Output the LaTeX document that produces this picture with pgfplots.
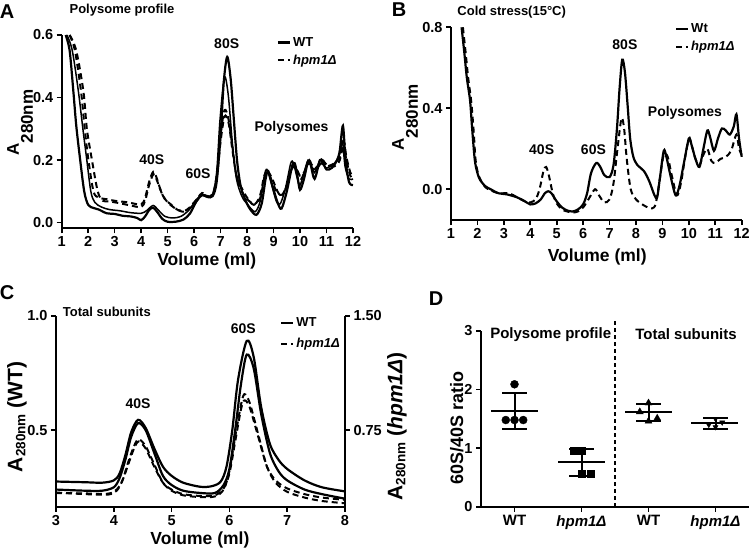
\documentclass[border=0pt]{standalone}
\usepackage{pgfplots}
\pgfplotsset{compat=1.18}
\usepackage{fontspec}
\setmainfont{Liberation Sans}
\newcommand\fs[1]{\fontsize{#1}{#1}\selectfont\bfseries}
\pgfplotsset{
  panel/.style={
    scale only axis, anchor=south west,
    axis x line*=bottom, axis y line*=left,
    axis line style={line width=2.2pt},
    tick style={line width=1.6pt,black},
    tick align=outside, major tick length=5pt,
    enlargelimits=false, clip=false,
    tick label style={font=\fs{14.5}},
    /pgf/number format/assume math mode=true,
    label style={font=\fs{17.5}},
    legend style={draw=none, fill=none, inner sep=0pt, font=\fs{13}, row sep=3pt, cells={anchor=west}, anchor=north west},
    legend image code/.code={\draw[#1] (0pt,0pt) -- (12pt,0pt);},
  },
  wt/.style={black, line width=2.2pt, smooth, tension=0.5},
  wtthin/.style={black, line width=1.5pt, smooth, tension=0.5},
  ko/.style={black, line width=2pt, dash pattern=on 6pt off 4pt, smooth, tension=0.5},
  bar/.style={black, line width=2pt},
}
\begin{document}
\bfseries
\begin{tikzpicture}
\useasboundingbox (0pt,0pt) rectangle (750pt,550pt);
% panel letters and titles
\node[font=\fs{20}] at (7pt,538pt) {A};
\node[font=\fs{20}] at (399pt,540pt) {B};
\node[font=\fs{20}] at (7pt,257.5pt) {C};
\node[font=\fs{20}] at (436pt,251pt) {D};
\node[font=\fs{13}] at (122pt,539.5pt) {Polysome profile};
\node[font=\fs{13}] at (511.7pt,538.3pt) {Cold stress(15°C)};
\node[font=\fs{13}, anchor=west, inner sep=0pt] at (62.7pt,238.3pt) {Total subunits};

% ---------------- Panel A ----------------
\begin{axis}[panel, at={(61.7pt,321.7pt)}, width=291.3pt, height=193.3pt,
  xmin=1, xmax=12, ymin=-0.018, ymax=0.6,
  xtick={1,2,...,12}, ytick={0,0.2,0.4,0.6}, yticklabels={0.0,0.2,0.4,0.6},
  xlabel={Volume (ml)}, xlabel style={at={(axis description cs:0.498,-0.17)}, anchor=center},
  ylabel={A\raisebox{-14pt}{280nm}}, ylabel style={at={(axis description cs:-0.143,0.547)}, anchor=center, font=\fs{17}},
  legend style={at={(axis description cs:0.738,1.0)}}]
\addplot[wt] coordinates {(1.15,0.60)(1.3,0.55)(1.44,0.42)(1.55,0.31)(1.69,0.206)(1.85,0.10)(2.0,0.057)(2.2,0.047)(2.4,0.042)(2.7,0.03)(3.0,0.028)(3.3,0.022)(3.6,0.02)(3.85,0.015)(4.0,0.008)(4.15,0.02)(4.3,0.04)(4.45,0.048)(4.6,0.035)(4.8,0.012)(5.0,0.003)(5.3,0.003)(5.6,0.01)(5.85,0.03)(6.1,0.07)(6.3,0.088)(6.5,0.082)(6.7,0.085)(6.85,0.13)(7.0,0.28)(7.12,0.45)(7.25,0.53)(7.38,0.46)(7.5,0.33)(7.62,0.2)(7.75,0.12)(7.9,0.08)(8.1,0.045)(8.35,0.025)(8.55,0.06)(8.7,0.14)(8.8,0.165)(8.95,0.12)(9.15,0.065)(9.3,0.045)(9.5,0.1)(9.7,0.18)(9.8,0.19)(9.9,0.15)(10.0,0.105)(10.15,0.14)(10.3,0.195)(10.4,0.185)(10.55,0.14)(10.75,0.2)(10.85,0.195)(11.0,0.17)(11.2,0.175)(11.4,0.2)(11.5,0.23)(11.62,0.31)(11.72,0.2)(11.85,0.13)(12.0,0.12)};
\addlegendentry{WT}
\addplot[ko] coordinates {(1.3,0.60)(1.5,0.55)(1.73,0.42)(1.87,0.3)(2.0,0.206)(2.2,0.10)(2.4,0.08)(2.7,0.075)(3.0,0.07)(3.5,0.065)(4.0,0.058)(4.15,0.08)(4.3,0.13)(4.46,0.163)(4.6,0.14)(4.75,0.1)(4.9,0.075)(5.1,0.06)(5.4,0.04)(5.7,0.04)(5.95,0.06)(6.15,0.08)(6.3,0.095)(6.5,0.085)(6.7,0.09)(6.85,0.15)(7.0,0.28)(7.15,0.36)(7.3,0.33)(7.45,0.24)(7.6,0.15)(7.8,0.11)(8.0,0.08)(8.25,0.057)(8.5,0.08)(8.65,0.14)(8.8,0.16)(8.95,0.14)(9.15,0.1)(9.3,0.085)(9.5,0.12)(9.7,0.18)(9.8,0.185)(9.95,0.15)(10.05,0.14)(10.2,0.17)(10.35,0.2)(10.5,0.17)(10.6,0.175)(10.8,0.19)(11.0,0.18)(11.3,0.19)(11.5,0.21)(11.65,0.24)(11.75,0.2)(11.9,0.15)(12.0,0.14)};
\addlegendentry{\textit{hpm1Δ}}
\addplot[wtthin, forget plot] coordinates {(1.2,0.60)(1.4,0.55)(1.63,0.42)(1.8,0.3)(1.94,0.206)(2.1,0.10)(2.25,0.065)(2.5,0.05)(2.8,0.042)(3.2,0.038)(3.6,0.032)(4.0,0.03)(4.2,0.038)(4.45,0.055)(4.65,0.04)(4.9,0.02)(5.2,0.015)(5.5,0.02)(5.8,0.04)(6.1,0.075)(6.3,0.09)(6.5,0.085)(6.7,0.09)(6.85,0.16)(6.97,0.32)(7.1,0.44)(7.18,0.465)(7.3,0.4)(7.45,0.25)(7.6,0.14)(7.8,0.085)(8.0,0.06)(8.3,0.035)(8.5,0.07)(8.65,0.15)(8.75,0.17)(8.9,0.13)(9.1,0.07)(9.25,0.06)(9.45,0.11)(9.65,0.19)(9.75,0.19)(9.9,0.14)(10.0,0.12)(10.15,0.16)(10.3,0.2)(10.4,0.19)(10.55,0.16)(10.75,0.2)(10.85,0.19)(11.0,0.175)(11.3,0.19)(11.5,0.22)(11.6,0.26)(11.7,0.18)(11.85,0.14)(12.0,0.14)};
\addplot[ko, forget plot] coordinates {(1.3,0.60)(1.55,0.55)(1.82,0.42)(1.95,0.3)(2.13,0.206)(2.36,0.10)(2.55,0.07)(2.8,0.068)(3.2,0.062)(3.6,0.055)(4.0,0.05)(4.15,0.07)(4.3,0.12)(4.47,0.155)(4.62,0.13)(4.8,0.09)(5.0,0.065)(5.3,0.045)(5.6,0.035)(5.9,0.05)(6.15,0.075)(6.3,0.09)(6.5,0.085)(6.7,0.09)(6.85,0.14)(7.0,0.26)(7.15,0.34)(7.3,0.32)(7.45,0.23)(7.6,0.15)(7.8,0.1)(8.0,0.075)(8.3,0.06)(8.5,0.09)(8.65,0.15)(8.8,0.16)(8.95,0.13)(9.15,0.095)(9.35,0.09)(9.55,0.13)(9.7,0.175)(9.85,0.175)(10.0,0.15)(10.15,0.16)(10.35,0.19)(10.5,0.18)(10.7,0.18)(10.85,0.2)(11.0,0.185)(11.3,0.18)(11.5,0.2)(11.65,0.26)(11.75,0.21)(11.9,0.16)(12.0,0.15)};
\node[font=\fs{14}] at (axis cs:7.23,0.573) {80S};
\node[font=\fs{14}] at (axis cs:4.4,0.2) {40S};
\node[font=\fs{14}] at (axis cs:6.15,0.158) {60S};
\node[font=\fs{14}] at (axis cs:9.68,0.302) {Polysomes};
\end{axis}

% ---------------- Panel B ----------------
\begin{axis}[panel, at={(451pt,330pt)}, width=290.7pt, height=192.7pt,
  xmin=1, xmax=12, ymin=-0.152, ymax=0.8,
  xtick={1,2,...,12}, ytick={0,0.4,0.8}, yticklabels={0.0,0.4,0.8},
  xlabel={Volume (ml)}, xlabel style={at={(axis description cs:0.503,-0.19)}, anchor=center},
  ylabel={A\raisebox{-14pt}{280nm}}, ylabel style={at={(axis description cs:-0.158,0.532)}, anchor=center, font=\fs{17}},
  legend style={at={(axis description cs:0.77,1.03)}}]
\addplot[wt] coordinates {(1.4,0.8)(1.5,0.68)(1.6,0.55)(1.72,0.44)(1.8,0.3)(1.9,0.145)(2.0,0.08)(2.1,0.046)(2.3,0.015)(2.5,0.0)(2.8,-0.02)(3.1,-0.025)(3.5,-0.04)(3.8,-0.06)(4.0,-0.075)(4.2,-0.07)(4.4,-0.05)(4.55,-0.02)(4.68,-0.01)(4.8,-0.02)(5.0,-0.06)(5.2,-0.09)(5.4,-0.105)(5.6,-0.11)(5.8,-0.1)(6.0,-0.075)(6.15,-0.02)(6.3,0.08)(6.5,0.13)(6.65,0.11)(6.8,0.07)(7.0,0.06)(7.15,0.12)(7.28,0.3)(7.38,0.5)(7.48,0.64)(7.58,0.58)(7.68,0.42)(7.78,0.25)(7.9,0.16)(8.05,0.12)(8.3,0.09)(8.5,0.04)(8.7,-0.03)(8.8,-0.04)(8.9,0.05)(9.05,0.19)(9.15,0.16)(9.3,0.07)(9.5,-0.03)(9.65,0.02)(9.8,0.12)(10.0,0.25)(10.1,0.22)(10.25,0.15)(10.4,0.11)(10.55,0.2)(10.7,0.29)(10.8,0.26)(10.95,0.19)(11.1,0.25)(11.25,0.3)(11.4,0.29)(11.55,0.27)(11.7,0.31)(11.8,0.37)(11.9,0.25)(12.0,0.16)};
\addlegendentry{Wt}
\addplot[ko] coordinates {(1.45,0.8)(1.55,0.68)(1.65,0.55)(1.76,0.44)(1.85,0.3)(1.93,0.145)(2.02,0.08)(2.12,0.046)(2.3,0.01)(2.5,-0.005)(2.8,-0.02)(3.2,-0.02)(3.5,-0.04)(3.8,-0.06)(4.0,-0.065)(4.2,-0.05)(4.35,0.0)(4.5,0.09)(4.6,0.11)(4.7,0.07)(4.85,-0.02)(5.0,-0.07)(5.2,-0.1)(5.4,-0.11)(5.6,-0.115)(5.8,-0.11)(6.0,-0.09)(6.2,-0.05)(6.45,0.0)(6.6,-0.03)(6.8,-0.065)(7.0,-0.05)(7.15,0.03)(7.3,0.2)(7.45,0.35)(7.55,0.3)(7.65,0.15)(7.8,0.0)(8.0,-0.05)(8.3,-0.08)(8.6,-0.095)(8.75,-0.07)(8.9,0.05)(9.05,0.17)(9.2,0.16)(9.35,0.07)(9.55,-0.03)(9.7,0.03)(9.85,0.15)(10.0,0.25)(10.1,0.22)(10.25,0.15)(10.4,0.12)(10.55,0.17)(10.7,0.2)(10.85,0.14)(11.0,0.13)(11.2,0.15)(11.4,0.16)(11.6,0.19)(11.8,0.27)(11.9,0.2)(12.0,0.17)};
\addlegendentry{\textit{hpm1Δ}}
\node[font=\fs{14}] at (axis cs:7.58,0.713) {80S};
\node[font=\fs{14}] at (axis cs:4.43,0.194) {40S};
\node[font=\fs{14}] at (axis cs:6.39,0.194) {60S};
\node[font=\fs{14}] at (axis cs:9.85,0.378) {Polysomes};
\end{axis}

% ---------------- Panel C ----------------
\begin{axis}[panel, at={(56pt,43.3pt)}, width=289pt, height=191pt,
  xmin=3, xmax=8, ymin=0.165, ymax=1.0,
  xtick={3,4,...,8}, ytick={0.5,1.0}, yticklabels={0.5,1.0},
  xlabel={Volume (ml)}, xlabel style={at={(axis description cs:0.498,-0.174)}, anchor=center},
  ylabel={A\raisebox{-3pt}{\fontsize{13.5}{13.5}\selectfont 280nm} (WT)}, ylabel style={at={(axis description cs:-0.135,0.47)}, anchor=center, font=\fs{21}},
  legend style={at={(axis description cs:0.775,1.0)}, row sep=6pt}]
\addplot[wt] coordinates {(3.0,0.275)(3.5,0.272)(3.8,0.27)(4.0,0.28)(4.1,0.31)(4.2,0.39)(4.3,0.49)(4.42,0.545)(4.55,0.51)(4.7,0.42)(4.85,0.34)(5.0,0.3)(5.2,0.27)(5.5,0.252)(5.7,0.255)(5.85,0.275)(5.95,0.34)(6.05,0.5)(6.15,0.72)(6.3,0.89)(6.42,0.82)(6.55,0.6)(6.7,0.44)(6.85,0.37)(7.0,0.33)(7.3,0.28)(7.6,0.25)(8.0,0.232)};
\addlegendentry{WT}
\addplot[ko] coordinates {(3.0,0.227)(3.5,0.22)(3.9,0.218)(4.05,0.235)(4.15,0.28)(4.25,0.36)(4.35,0.43)(4.43,0.46)(4.55,0.43)(4.7,0.35)(4.85,0.27)(5.0,0.235)(5.2,0.215)(5.5,0.207)(5.75,0.21)(5.9,0.24)(6.0,0.32)(6.1,0.47)(6.2,0.61)(6.26,0.657)(6.35,0.62)(6.5,0.48)(6.65,0.34)(6.8,0.27)(7.0,0.23)(7.3,0.205)(7.6,0.19)(8.0,0.18)};
\addlegendentry{\textit{hpm1Δ}}
\addplot[wt, forget plot] coordinates {(3.0,0.24)(3.5,0.235)(3.8,0.235)(4.0,0.25)(4.1,0.29)(4.2,0.37)(4.3,0.47)(4.42,0.53)(4.55,0.5)(4.7,0.4)(4.85,0.3)(5.0,0.26)(5.2,0.235)(5.5,0.225)(5.75,0.225)(5.9,0.26)(6.0,0.33)(6.1,0.5)(6.2,0.7)(6.3,0.83)(6.42,0.77)(6.55,0.57)(6.7,0.4)(6.85,0.32)(7.0,0.28)(7.3,0.24)(7.6,0.22)(8.0,0.2)};
\addplot[ko, forget plot] coordinates {(3.0,0.225)(3.5,0.223)(3.9,0.222)(4.05,0.24)(4.15,0.28)(4.25,0.35)(4.35,0.42)(4.43,0.45)(4.55,0.42)(4.7,0.34)(4.85,0.27)(5.0,0.24)(5.2,0.22)(5.5,0.212)(5.75,0.215)(5.9,0.245)(6.0,0.31)(6.1,0.45)(6.2,0.59)(6.26,0.63)(6.35,0.6)(6.5,0.47)(6.65,0.34)(6.8,0.28)(7.0,0.245)(7.3,0.22)(7.6,0.205)(8.0,0.195)};
\node[font=\fs{14}] at (axis cs:4.42,0.617) {40S};
\node[font=\fs{14}] at (axis cs:6.24,0.945) {60S};
\end{axis}
\begin{axis}[panel, at={(56pt,43.3pt)}, width=289pt, height=191pt,
  axis x line=none, axis y line*=right,
  xmin=3, xmax=8, ymin=0.2475, ymax=1.5,
  ytick={0.75,1.5}, yticklabels={0.75,1.50},
  ylabel={A\raisebox{-3pt}{\fontsize{13.5}{13.5}\selectfont 280nm} (\textit{hpm1Δ})}, ylabel style={at={(axis description cs:1.18,0.42)}, anchor=center, font=\fs{21}}]
\addplot[draw=none] coordinates {(3,0.75)(8,0.75)};
\end{axis}

% ---------------- Panel D ----------------
\begin{axis}[panel, at={(481pt,43.3pt)}, width=268pt, height=175.7pt,
  xmin=0.5, xmax=4.5, ymin=0, ymax=3,
  xtick={1,2,3,4}, xticklabels={WT,\textit{hpm1Δ},WT,\textit{hpm1Δ}},
  xticklabel style={font=\fs{15}},
  ytick={0,1,2,3},
  ylabel={60S/40S ratio}, ylabel style={at={(axis description cs:-0.09,0.448)}, anchor=center, font=\fs{18}}]
\addplot[black, line width=2pt, dash pattern=on 4pt off 3pt] coordinates {(2.5,0)(2.5,3.19)};
\addplot[black, only marks, mark=*, mark size=4pt] coordinates {(1,2.09)(0.87,1.48)(1,1.48)(1.13,1.48)};
\addplot[black, only marks, mark=square*, mark size=3.5pt] coordinates {(1.88,0.96)(2.0,0.96)(2.0,0.56)(2.13,0.56)};
\addplot[black, only marks, mark=triangle*, mark size=4pt] coordinates {(2.87,1.62)(3.0,1.77)(3.0,1.46)(3.13,1.51)};
\addplot[black, only marks, mark=triangle*, mark options={rotate=180}, mark size=3pt] coordinates {(3.9,1.40)(4.0,1.50)(4.0,1.36)(4.1,1.44)};
% means and SD
\addplot[bar] coordinates {(0.65,1.63)(1.35,1.63)};
\addplot[bar] coordinates {(1,1.33)(1,1.94)};
\addplot[bar] coordinates {(0.82,1.33)(1.18,1.33)};
\addplot[bar] coordinates {(0.82,1.94)(1.18,1.94)};
\addplot[bar] coordinates {(1.65,0.76)(2.35,0.76)};
\addplot[bar] coordinates {(2,0.52)(2,0.985)};
\addplot[bar] coordinates {(1.82,0.52)(2.18,0.52)};
\addplot[bar] coordinates {(1.82,0.985)(2.18,0.985)};
\addplot[bar] coordinates {(2.65,1.61)(3.35,1.61)};
\addplot[bar] coordinates {(3,1.47)(3,1.75)};
\addplot[bar] coordinates {(2.82,1.47)(3.18,1.47)};
\addplot[bar] coordinates {(2.82,1.75)(3.18,1.75)};
\addplot[bar] coordinates {(3.64,1.43)(4.34,1.43)};
\addplot[bar] coordinates {(4,1.33)(4,1.51)};
\addplot[bar] coordinates {(3.82,1.33)(4.18,1.33)};
\addplot[bar] coordinates {(3.82,1.51)(4.18,1.51)};
\node[font=\fs{15}] at (axis cs:1.54,2.94) {Polysome profile};
\node[font=\fs{15}] at (axis cs:3.56,2.94) {Total subunits};
\end{axis}
\end{tikzpicture}
\end{document}
